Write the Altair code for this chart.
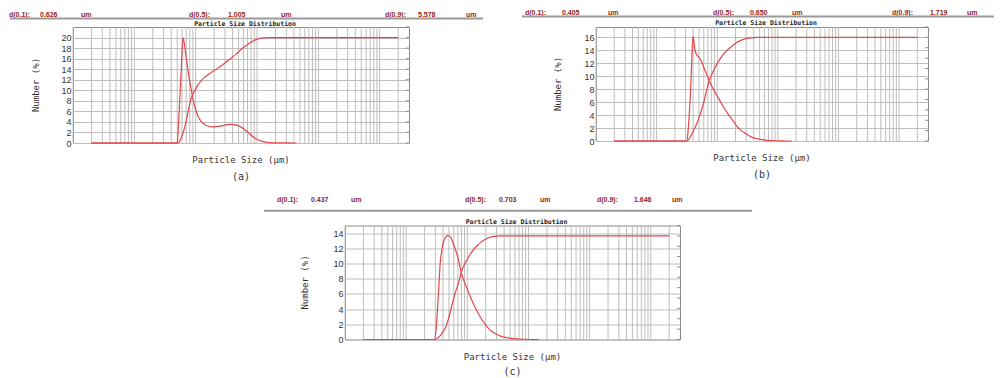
import altair as alt
import pandas as pd

# ---------------- data ----------------
# panel (a)
a_num_x = [0.02, 0.3, 0.5, 0.53, 0.56, 0.59, 0.62, 0.65, 0.70, 0.76, 0.84, 0.92, 1.0, 1.1, 1.25,
           1.45, 1.7, 2.0, 2.4, 2.9, 3.5, 4.2, 5.0, 6.0, 7.0, 8.2, 9.6, 11.2, 13.1, 16, 20, 28, 44]
a_num_y = [0, 0, 0, 4.5, 10, 15.5, 20, 19, 16.2, 13.3, 10.3, 8.0, 6.3, 5.0, 4.0,
           3.4, 3.1, 3.05, 3.15, 3.35, 3.55, 3.5, 3.3, 2.7, 2.1, 1.4, 0.8, 0.45, 0.2, 0.08, 0.03, 0.01, 0]
a_cum_x = [0.02, 0.3, 0.5, 0.54, 0.58, 0.626, 0.695, 0.76, 0.84, 0.92, 1.005, 1.15, 1.35, 1.57,
           1.9, 2.28, 3.0, 3.76, 4.5, 5.1, 6.0, 7.0, 8.2, 9.6, 11.2, 13.1, 16, 2000]
a_cum_y = [0, 0, 0, 1, 5, 10, 20, 31, 42, 47.5, 51.5, 57, 61.5, 64.5,
           67.8, 71, 75.8, 80.5, 84, 87, 90.5, 93.5, 96, 98, 99.2, 99.7, 100, 100]
a_dvals = ["0.626", "1.005", "5.578"]

# panel (b)
b_num_x = [0.02, 0.3, 0.315, 0.33, 0.345, 0.36, 0.375, 0.39, 0.40, 0.415, 0.43, 0.46, 0.49, 0.52,
           0.555, 0.61, 0.67, 0.74, 0.81, 0.95, 1.11, 1.3, 1.52, 1.8, 2.1, 2.5, 3.07, 3.7, 4.5,
           5.5, 6.6, 9.0, 12, 17]
b_num_y = [0, 0, 0, 1.5, 4, 7, 11, 15, 16.2, 15.2, 14.0, 13.3, 13.0, 12.7,
           12.2, 11.2, 10.3, 9.3, 8.5, 7.3, 6.2, 5.1, 4.1, 3.2, 2.3, 1.6, 1.05, 0.6, 0.36,
           0.2, 0.1, 0.04, 0.01, 0]
b_cum_x = [0.02, 0.3, 0.315, 0.34, 0.37, 0.405, 0.43, 0.49, 0.555, 0.61, 0.65, 0.71, 0.81, 0.95,
           1.11, 1.3, 1.52, 1.719, 2.1, 2.5, 3.07, 3.7, 4.5, 6.0, 2000]
b_cum_y = [0, 0, 0, 1.5, 5, 10, 13, 21, 30.5, 39, 46, 55, 64, 72.5,
           79, 84.5, 88.5, 91, 95, 97.3, 99, 99.6, 99.9, 100, 100]
b_dvals = ["0.405", "0.650", "1.719"]

# panel (c)
c_num_x = [0.02, 0.28, 0.29, 0.31, 0.33, 0.345, 0.36, 0.38, 0.40, 0.43, 0.48, 0.53, 0.577, 0.635,
           0.695, 0.79, 0.9, 1.0, 1.15, 1.38, 1.65, 2.0, 2.4, 2.9, 3.5, 4.2, 5.2, 6.5, 9, 15]
c_num_y = [0, 0, 0, 1.5, 4.8, 7.5, 10, 11.6, 12.6, 13.3, 13.7, 13.5, 12.8, 11.9,
           10.9, 8.9, 7.5, 6.6, 5.4, 4.0, 2.9, 1.9, 1.2, 0.75, 0.45, 0.28, 0.15, 0.08, 0.03, 0]
c_cum_x = [0.02, 0.28, 0.3, 0.33, 0.37, 0.41, 0.437, 0.48, 0.53, 0.577, 0.635, 0.703, 0.79, 0.9,
           1.0, 1.08, 1.25, 1.47, 1.646, 2.0, 2.4, 2.75, 3.5, 5.0, 2000]
c_cum_y = [0, 0, 0, 1.5, 4.5, 8.5, 11, 18, 27, 36, 45, 53, 64, 72.5,
           77.5, 81, 86.5, 91, 93.5, 97, 98.8, 99.5, 99.9, 100, 100]
c_dvals = ["0.437", "0.703", "1.646"]

d_names = ["d(0.1):", "d(0.5):", "d(0.9):"]
unit_label = "um"
x_ticks = [0.01, 0.1, 1, 10, 100, 1000, 3000]
grid_x = [0.01, 0.02, 0.03, 0.04, 0.05, 0.06, 0.07, 0.08, 0.09,
          0.1, 0.2, 0.3, 0.4, 0.5, 0.6, 0.7, 0.8, 0.9,
          1, 2, 3, 4, 5, 6, 7, 8, 9,
          10, 20, 30, 40, 50, 60, 70, 80, 90,
          100, 200, 300, 400, 500, 600, 700, 800, 900,
          1000, 2000]
right_ticks = [0, 10, 20, 30, 40, 50, 60, 70, 80, 90, 100, 110]
a_left_ticks = [0, 2, 4, 6, 8, 10, 12, 14, 16, 18, 20]
b_left_ticks = [0, 2, 4, 6, 8, 10, 12, 14, 16]
c_left_ticks = [0, 2, 4, 6, 8, 10, 12, 14]

# ---------------- styling ----------------
RED = "#e2474b"
GRID = "#bdbdbd"
BORDER = "#8a8a8a"
LABEL = "#333333"
HDR = "#8f2424"
SANS = "Liberation Sans"
MONO = "DejaVu Sans Mono"

one = pd.DataFrame({"k": [0]})


def txt(s, px, py, size, font=SANS, color=LABEL, weight="normal", align="left",
        baseline="middle", angle=0):
    return alt.Chart(one).mark_text(
        text=s, fontSize=size, font=font, color=color, fontWeight=weight,
        align=align, baseline=baseline, angle=angle
    ).encode(x=alt.value(px), y=alt.value(py))


def panel(tag, num_x, num_y, cum_x, cum_y, ymax, yticks, dvals, W, H,
          hxs, hy, ly, lx0, lx1, ytitle_x, ty, tag_dy):
    xs = alt.Scale(type="log", domain=[0.01, 3000], nice=False)
    grid = alt.Chart(pd.DataFrame({"g": grid_x})).mark_rule(
        color=GRID, strokeWidth=1
    ).encode(
        x=alt.X("g:Q", scale=xs, axis=alt.Axis(
            values=x_ticks, format="~g", title=None, grid=False, ticks=False,
            domain=False, labelFlush=False, labelOverlap=False, labelPadding=1,
            labelFontSize=9, labelFont=SANS, labelColor=LABEL)),
        y=alt.value(0), y2=alt.value(H),
    )
    ys = alt.Scale(domain=[0, ymax], nice=False, zero=True)
    num = alt.Chart(pd.DataFrame({"size": num_x, "pct": num_y})).mark_line(
        color=RED, strokeWidth=1.2, interpolate="monotone"
    ).encode(
        x=alt.X("size:Q", scale=xs, axis=None),
        y=alt.Y("pct:Q", scale=ys, axis=alt.Axis(
            values=yticks, title=None, grid=True, gridColor=GRID, gridWidth=1,
            ticks=False, domain=False, labelPadding=2, labelFontSize=9,
            labelFont=SANS, labelColor=LABEL)),
    )
    left = alt.layer(grid, num)

    yr = alt.Scale(domain=[0, 110], nice=False, zero=True)
    cum = alt.Chart(pd.DataFrame({"size": cum_x, "cum": cum_y})).mark_line(
        color=RED, strokeWidth=1.2, interpolate="monotone"
    ).encode(
        x=alt.X("size:Q", scale=xs, axis=None),
        y=alt.Y("cum:Q", scale=yr, axis=alt.Axis(
            orient="right", values=right_ticks, title=None, grid=False,
            ticks=False, domain=False, labelPadding=7, labelFontSize=9,
            labelFont=SANS, labelColor=LABEL)),
    )
    rticks = alt.Chart(pd.DataFrame({"t": right_ticks})).mark_rule(
        color=BORDER, strokeWidth=1
    ).encode(
        y=alt.Y("t:Q", scale=yr, axis=None),
        x=alt.value(W - 3), x2=alt.value(W),
    )
    right = alt.layer(cum, rticks)

    items = []
    header = [d_names[0], dvals[0], unit_label, d_names[1], dvals[1], unit_label,
              d_names[2], dvals[2], unit_label]
    for s, px in zip(header, hxs):
        items.append(txt(s, px, hy, 7, color=HDR, weight="bold"))
    items.append(alt.Chart(one).mark_rule(color="#9a9a9a", strokeWidth=2).encode(
        x=alt.value(lx0), x2=alt.value(lx1), y=alt.value(ly)))
    items.append(txt("Particle Size Distribution", W / 2 + 4, ty, 6.5, font=MONO,
                     color="#222222", weight="bold", align="center"))
    items.append(txt("Particle Size (µm)", W / 2, H + 17, 9, font=MONO, align="center"))
    items.append(txt("Number (%)", ytitle_x, H / 2, 9, font=MONO, align="center", angle=270))
    items.append(txt(tag, W / 2, H + tag_dy, 10, font=MONO, align="center"))

    return alt.layer(left, right, *items).resolve_scale(y="independent").properties(
        width=W, height=H)


A = panel("(a)", a_num_x, a_num_y, a_cum_x, a_cum_y, 22, a_left_ticks, a_dvals, 336, 116,
          [-64, -33, 8, 116, 155, 208, 312, 345, 393], -12.5, -8.5, -63, 410, -37, -3.5, 34)
B = panel("(b)", b_num_x, b_num_y, b_cum_x, b_cum_y, 17.6, b_left_ticks, b_dvals, 332, 114,
          [-71, -34, 12, 117, 154, 196, 296, 334, 371], -14.5, -10.5, -74, 398, -38, -4, 34)
C = panel("(c)", c_num_x, c_num_y, c_cum_x, c_cum_y, 15.0, c_left_ticks, c_dvals, 335, 114,
          [-68, -34, 6, 120, 154, 195, 252, 289, 327], -26, -14.7, -81, 407, -40, -4, 32)

spacer = alt.Chart(one).mark_text(text=" ", align="left", baseline="top").encode(
    x=alt.value(0), y=alt.value(0)
).properties(width=188, height=10, view=alt.ViewBackground(stroke="transparent"))

top = alt.hconcat(A, B, spacing=35)
bottom = alt.hconcat(spacer, C, spacing=0)
chart = alt.vconcat(top, bottom, spacing=11.5).properties(
    padding=0, background="white"
).configure_view(stroke=BORDER, strokeWidth=1)

chart.save("out.html", embed_options={"renderer": "svg", "actions": False})
